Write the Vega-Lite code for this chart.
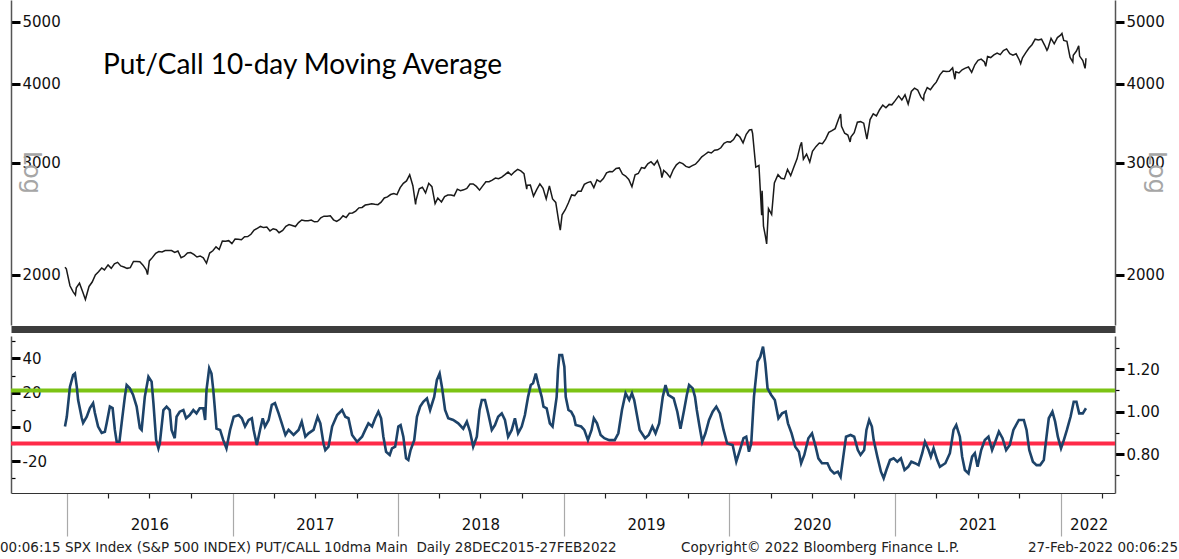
{
  "$schema": "https://vega.github.io/schema/vega-lite/v6.json",
  "padding": {"left": 0, "top": 0, "right": 15, "bottom": 0},
  "background": "white",
  "config": {"view": {"stroke": null}, "font": "DejaVu Sans", "axis": {"grid": false, "labelFont": "DejaVu Sans"}},
  "title": {
    "text": "00:06:15 SPX Index (S&P 500 INDEX) PUT/CALL 10dma Main\u00a0\u00a0Daily 28DEC2015-27FEB2022\u00a0\u00a0\u00a0\u00a0\u00a0\u00a0\u00a0\u00a0\u00a0\u00a0\u00a0\u00a0\u00a0\u00a0\u00a0Copyright\u00a9 2022 Bloomberg Finance L.P.\u00a0\u00a0\u00a0\u00a0\u00a0\u00a0\u00a0\u00a0\u00a0\u00a0\u00a0\u00a0\u00a0\u00a0\u00a0\u00a027-Feb-2022 00:06:25",
    "orient": "bottom", "anchor": "start", "frame": "group", "dx": -11, "offset": -14,
    "font": "DejaVu Sans", "fontSize": 13.5, "fontWeight": "normal", "color": "#222"
  },
  "datasets": {
    "levels": [{"level": 1.10, "band": "upper"}, {"level": 0.85, "band": "lower"}],
    "spx": [
      {"date":"2015-12-28","close":2056},{"date":"2015-12-31","close":2044},{"date":"2016-01-08","close":1922},{"date":"2016-01-15","close":1880},{"date":"2016-01-20","close":1859},{"date":"2016-01-22","close":1907},{"date":"2016-01-29","close":1940},{"date":"2016-02-05","close":1880},{"date":"2016-02-11","close":1829},{"date":"2016-02-19","close":1917},{"date":"2016-02-26","close":1948},{"date":"2016-03-04","close":1999},{"date":"2016-03-11","close":2022},{"date":"2016-03-18","close":2050},{"date":"2016-03-24","close":2035},{"date":"2016-04-01","close":2073},{"date":"2016-04-08","close":2047},{"date":"2016-04-15","close":2081},{"date":"2016-04-22","close":2092},{"date":"2016-04-29","close":2065},{"date":"2016-05-06","close":2057},{"date":"2016-05-13","close":2047},{"date":"2016-05-20","close":2052},{"date":"2016-05-27","close":2099},{"date":"2016-06-03","close":2099},{"date":"2016-06-10","close":2096},{"date":"2016-06-17","close":2071},{"date":"2016-06-24","close":2037},{"date":"2016-06-27","close":2001},{"date":"2016-07-01","close":2103},{"date":"2016-07-08","close":2130},{"date":"2016-07-15","close":2162},{"date":"2016-07-22","close":2175},{"date":"2016-07-29","close":2173},{"date":"2016-08-05","close":2183},{"date":"2016-08-12","close":2184},{"date":"2016-08-19","close":2184},{"date":"2016-08-26","close":2169},{"date":"2016-09-02","close":2180},{"date":"2016-09-09","close":2128},{"date":"2016-09-16","close":2139},{"date":"2016-09-23","close":2165},{"date":"2016-09-30","close":2168},{"date":"2016-10-07","close":2153},{"date":"2016-10-14","close":2133},{"date":"2016-10-21","close":2141},{"date":"2016-10-28","close":2126},{"date":"2016-11-04","close":2085},{"date":"2016-11-11","close":2164},{"date":"2016-11-18","close":2182},{"date":"2016-11-25","close":2213},{"date":"2016-12-02","close":2192},{"date":"2016-12-09","close":2260},{"date":"2016-12-16","close":2258},{"date":"2016-12-23","close":2263},{"date":"2016-12-30","close":2239},
      {"date":"2017-01-06","close":2277},{"date":"2017-01-13","close":2274},{"date":"2017-01-20","close":2271},{"date":"2017-01-27","close":2295},{"date":"2017-02-03","close":2297},{"date":"2017-02-10","close":2316},{"date":"2017-02-17","close":2351},{"date":"2017-02-24","close":2367},{"date":"2017-03-03","close":2383},{"date":"2017-03-10","close":2373},{"date":"2017-03-17","close":2378},{"date":"2017-03-24","close":2344},{"date":"2017-03-31","close":2363},{"date":"2017-04-07","close":2355},{"date":"2017-04-13","close":2329},{"date":"2017-04-21","close":2349},{"date":"2017-04-28","close":2384},{"date":"2017-05-05","close":2399},{"date":"2017-05-12","close":2391},{"date":"2017-05-19","close":2382},{"date":"2017-05-26","close":2416},{"date":"2017-06-02","close":2439},{"date":"2017-06-09","close":2432},{"date":"2017-06-16","close":2433},{"date":"2017-06-23","close":2438},{"date":"2017-06-30","close":2423},{"date":"2017-07-07","close":2425},{"date":"2017-07-14","close":2459},{"date":"2017-07-21","close":2473},{"date":"2017-07-28","close":2472},{"date":"2017-08-04","close":2477},{"date":"2017-08-11","close":2441},{"date":"2017-08-18","close":2426},{"date":"2017-08-25","close":2444},{"date":"2017-09-01","close":2477},{"date":"2017-09-08","close":2461},{"date":"2017-09-15","close":2500},{"date":"2017-09-22","close":2502},{"date":"2017-09-29","close":2519},{"date":"2017-10-06","close":2549},{"date":"2017-10-13","close":2553},{"date":"2017-10-20","close":2575},{"date":"2017-10-27","close":2581},{"date":"2017-11-03","close":2587},{"date":"2017-11-10","close":2582},{"date":"2017-11-17","close":2579},{"date":"2017-11-24","close":2602},{"date":"2017-12-01","close":2642},{"date":"2017-12-08","close":2652},{"date":"2017-12-15","close":2675},{"date":"2017-12-22","close":2684},{"date":"2017-12-29","close":2674},
      {"date":"2018-01-05","close":2743},{"date":"2018-01-12","close":2786},{"date":"2018-01-19","close":2810},{"date":"2018-01-26","close":2873},{"date":"2018-02-02","close":2762},{"date":"2018-02-08","close":2581},{"date":"2018-02-09","close":2620},{"date":"2018-02-16","close":2732},{"date":"2018-02-23","close":2747},{"date":"2018-03-02","close":2691},{"date":"2018-03-09","close":2786},{"date":"2018-03-16","close":2752},{"date":"2018-03-23","close":2588},{"date":"2018-03-29","close":2641},{"date":"2018-04-06","close":2604},{"date":"2018-04-13","close":2656},{"date":"2018-04-20","close":2670},{"date":"2018-04-27","close":2670},{"date":"2018-05-04","close":2663},{"date":"2018-05-11","close":2728},{"date":"2018-05-18","close":2713},{"date":"2018-05-25","close":2721},{"date":"2018-06-01","close":2735},{"date":"2018-06-08","close":2779},{"date":"2018-06-15","close":2780},{"date":"2018-06-22","close":2755},{"date":"2018-06-29","close":2718},{"date":"2018-07-06","close":2760},{"date":"2018-07-13","close":2801},{"date":"2018-07-20","close":2802},{"date":"2018-07-27","close":2819},{"date":"2018-08-03","close":2840},{"date":"2018-08-10","close":2833},{"date":"2018-08-17","close":2850},{"date":"2018-08-24","close":2875},{"date":"2018-08-31","close":2902},{"date":"2018-09-07","close":2872},{"date":"2018-09-14","close":2905},{"date":"2018-09-21","close":2930},{"date":"2018-09-28","close":2914},{"date":"2018-10-05","close":2886},{"date":"2018-10-11","close":2728},{"date":"2018-10-12","close":2767},{"date":"2018-10-19","close":2768},{"date":"2018-10-26","close":2659},{"date":"2018-11-02","close":2723},{"date":"2018-11-09","close":2781},{"date":"2018-11-16","close":2736},{"date":"2018-11-23","close":2633},{"date":"2018-11-30","close":2760},{"date":"2018-12-07","close":2633},{"date":"2018-12-14","close":2600},{"date":"2018-12-21","close":2417},{"date":"2018-12-24","close":2351},{"date":"2018-12-28","close":2486},
      {"date":"2019-01-04","close":2532},{"date":"2019-01-11","close":2596},{"date":"2019-01-18","close":2671},{"date":"2019-01-25","close":2665},{"date":"2019-02-01","close":2707},{"date":"2019-02-08","close":2708},{"date":"2019-02-15","close":2776},{"date":"2019-02-22","close":2793},{"date":"2019-03-01","close":2804},{"date":"2019-03-08","close":2743},{"date":"2019-03-15","close":2822},{"date":"2019-03-22","close":2801},{"date":"2019-03-29","close":2834},{"date":"2019-04-05","close":2893},{"date":"2019-04-12","close":2907},{"date":"2019-04-18","close":2905},{"date":"2019-04-26","close":2940},{"date":"2019-05-03","close":2946},{"date":"2019-05-10","close":2881},{"date":"2019-05-17","close":2860},{"date":"2019-05-24","close":2826},{"date":"2019-05-31","close":2752},{"date":"2019-06-07","close":2873},{"date":"2019-06-14","close":2887},{"date":"2019-06-21","close":2950},{"date":"2019-06-28","close":2942},{"date":"2019-07-05","close":2990},{"date":"2019-07-12","close":3014},{"date":"2019-07-19","close":2977},{"date":"2019-07-26","close":3026},{"date":"2019-08-02","close":2932},{"date":"2019-08-05","close":2845},{"date":"2019-08-09","close":2919},{"date":"2019-08-16","close":2889},{"date":"2019-08-23","close":2847},{"date":"2019-08-30","close":2926},{"date":"2019-09-06","close":2979},{"date":"2019-09-13","close":3007},{"date":"2019-09-20","close":2992},{"date":"2019-09-27","close":2962},{"date":"2019-10-04","close":2952},{"date":"2019-10-11","close":2970},{"date":"2019-10-18","close":2986},{"date":"2019-10-25","close":3023},{"date":"2019-11-01","close":3067},{"date":"2019-11-08","close":3093},{"date":"2019-11-15","close":3120},{"date":"2019-11-22","close":3110},{"date":"2019-11-29","close":3141},{"date":"2019-12-06","close":3146},{"date":"2019-12-13","close":3169},{"date":"2019-12-20","close":3221},{"date":"2019-12-27","close":3240},
      {"date":"2020-01-03","close":3235},{"date":"2020-01-10","close":3265},{"date":"2020-01-17","close":3330},{"date":"2020-01-24","close":3295},{"date":"2020-01-31","close":3226},{"date":"2020-02-07","close":3328},{"date":"2020-02-14","close":3380},{"date":"2020-02-19","close":3386},{"date":"2020-02-21","close":3338},{"date":"2020-02-28","close":2954},{"date":"2020-03-06","close":2972},{"date":"2020-03-12","close":2481},{"date":"2020-03-13","close":2711},{"date":"2020-03-16","close":2386},{"date":"2020-03-20","close":2305},{"date":"2020-03-23","close":2237},{"date":"2020-03-27","close":2541},{"date":"2020-04-03","close":2489},{"date":"2020-04-09","close":2790},{"date":"2020-04-17","close":2875},{"date":"2020-04-24","close":2837},{"date":"2020-05-01","close":2831},{"date":"2020-05-08","close":2930},{"date":"2020-05-15","close":2864},{"date":"2020-05-22","close":2955},{"date":"2020-05-29","close":3044},{"date":"2020-06-05","close":3194},{"date":"2020-06-08","close":3232},{"date":"2020-06-12","close":3041},{"date":"2020-06-19","close":3098},{"date":"2020-06-26","close":3009},{"date":"2020-07-02","close":3130},{"date":"2020-07-10","close":3185},{"date":"2020-07-17","close":3225},{"date":"2020-07-24","close":3216},{"date":"2020-07-31","close":3271},{"date":"2020-08-07","close":3351},{"date":"2020-08-14","close":3373},{"date":"2020-08-21","close":3397},{"date":"2020-08-28","close":3508},{"date":"2020-09-02","close":3580},{"date":"2020-09-04","close":3427},{"date":"2020-09-11","close":3341},{"date":"2020-09-18","close":3319},{"date":"2020-09-23","close":3237},{"date":"2020-09-25","close":3298},{"date":"2020-10-02","close":3348},{"date":"2020-10-09","close":3477},{"date":"2020-10-16","close":3484},{"date":"2020-10-23","close":3465},{"date":"2020-10-30","close":3270},{"date":"2020-11-06","close":3510},{"date":"2020-11-13","close":3585},{"date":"2020-11-20","close":3558},{"date":"2020-11-27","close":3638},{"date":"2020-12-04","close":3699},{"date":"2020-12-11","close":3663},{"date":"2020-12-18","close":3709},{"date":"2020-12-24","close":3703},{"date":"2020-12-31","close":3756},
      {"date":"2021-01-08","close":3825},{"date":"2021-01-15","close":3768},{"date":"2021-01-22","close":3841},{"date":"2021-01-29","close":3714},{"date":"2021-02-05","close":3887},{"date":"2021-02-12","close":3934},{"date":"2021-02-19","close":3907},{"date":"2021-02-26","close":3811},{"date":"2021-03-04","close":3768},{"date":"2021-03-05","close":3842},{"date":"2021-03-12","close":3943},{"date":"2021-03-19","close":3913},{"date":"2021-03-26","close":3975},{"date":"2021-04-01","close":4020},{"date":"2021-04-09","close":4129},{"date":"2021-04-16","close":4185},{"date":"2021-04-23","close":4180},{"date":"2021-04-30","close":4181},{"date":"2021-05-07","close":4233},{"date":"2021-05-12","close":4063},{"date":"2021-05-14","close":4174},{"date":"2021-05-21","close":4156},{"date":"2021-05-28","close":4204},{"date":"2021-06-04","close":4230},{"date":"2021-06-11","close":4247},{"date":"2021-06-18","close":4166},{"date":"2021-06-25","close":4281},{"date":"2021-07-02","close":4352},{"date":"2021-07-09","close":4370},{"date":"2021-07-16","close":4327},{"date":"2021-07-19","close":4258},{"date":"2021-07-23","close":4412},{"date":"2021-07-30","close":4395},{"date":"2021-08-06","close":4437},{"date":"2021-08-13","close":4468},{"date":"2021-08-20","close":4442},{"date":"2021-08-27","close":4509},{"date":"2021-09-03","close":4535},{"date":"2021-09-10","close":4459},{"date":"2021-09-17","close":4433},{"date":"2021-09-24","close":4455},{"date":"2021-10-01","close":4357},{"date":"2021-10-04","close":4300},{"date":"2021-10-08","close":4391},{"date":"2021-10-15","close":4471},{"date":"2021-10-22","close":4545},{"date":"2021-10-29","close":4605},{"date":"2021-11-05","close":4698},{"date":"2021-11-12","close":4683},{"date":"2021-11-19","close":4698},{"date":"2021-11-26","close":4595},{"date":"2021-12-01","close":4513},{"date":"2021-12-03","close":4538},{"date":"2021-12-10","close":4712},{"date":"2021-12-17","close":4620},{"date":"2021-12-24","close":4726},{"date":"2021-12-31","close":4766},
      {"date":"2022-01-03","close":4796},{"date":"2022-01-07","close":4677},{"date":"2022-01-14","close":4663},{"date":"2022-01-21","close":4398},{"date":"2022-01-27","close":4326},{"date":"2022-01-28","close":4432},{"date":"2022-02-04","close":4501},{"date":"2022-02-09","close":4587},{"date":"2022-02-11","close":4419},{"date":"2022-02-18","close":4349},{"date":"2022-02-23","close":4226},{"date":"2022-02-24","close":4288},{"date":"2022-02-25","close":4385}
    ],
    "pc": [
      {"date":"2015-12-28","ratio":0.93},{"date":"2016-01-01","ratio":0.976},{"date":"2016-01-08","ratio":1.118},{"date":"2016-01-15","ratio":1.173},{"date":"2016-01-19","ratio":1.18},{"date":"2016-01-23","ratio":1.118},{"date":"2016-01-26","ratio":1.055},{"date":"2016-02-03","ratio":0.97},{"date":"2016-02-06","ratio":0.947},{"date":"2016-02-14","ratio":0.976},{"date":"2016-02-21","ratio":1.017},{"date":"2016-02-28","ratio":1.04},{"date":"2016-03-03","ratio":0.994},{"date":"2016-03-10","ratio":0.93},{"date":"2016-03-18","ratio":0.90},{"date":"2016-03-25","ratio":0.905},{"date":"2016-03-29","ratio":0.947},{"date":"2016-04-05","ratio":1.024},{"date":"2016-04-11","ratio":1.017},{"date":"2016-04-16","ratio":0.914},{"date":"2016-04-20","ratio":0.858},{"date":"2016-04-26","ratio":0.858},{"date":"2016-05-01","ratio":0.947},{"date":"2016-05-08","ratio":1.07},{"date":"2016-05-12","ratio":1.126},{"date":"2016-05-19","ratio":1.11},{"date":"2016-05-26","ratio":1.08},{"date":"2016-06-03","ratio":1.024},{"date":"2016-06-10","ratio":0.923},{"date":"2016-06-14","ratio":0.914},{"date":"2016-06-21","ratio":1.07},{"date":"2016-06-29","ratio":1.165},{"date":"2016-07-06","ratio":1.142},{"date":"2016-07-10","ratio":1.04},{"date":"2016-07-16","ratio":0.866},{"date":"2016-07-21","ratio":0.827},{"date":"2016-07-24","ratio":0.85},{"date":"2016-08-01","ratio":1.008},{"date":"2016-08-08","ratio":1.024},{"date":"2016-08-15","ratio":1.008},{"date":"2016-08-19","ratio":0.914},{"date":"2016-08-26","ratio":0.875},{"date":"2016-08-30","ratio":0.976},{"date":"2016-09-06","ratio":1.0},{"date":"2016-09-14","ratio":1.008},{"date":"2016-09-20","ratio":0.969},{"date":"2016-09-28","ratio":0.984},{"date":"2016-10-06","ratio":1.008},{"date":"2016-10-13","ratio":0.992},{"date":"2016-10-20","ratio":1.016},{"date":"2016-10-28","ratio":1.016},{"date":"2016-11-01","ratio":0.961},{"date":"2016-11-04","ratio":1.102},{"date":"2016-11-10","ratio":1.205},{"date":"2016-11-15","ratio":1.18},{"date":"2016-11-19","ratio":1.102},{"date":"2016-11-23","ratio":1.0},{"date":"2016-11-26","ratio":0.92},{"date":"2016-12-04","ratio":0.914},{"date":"2016-12-11","ratio":0.866},{"date":"2016-12-18","ratio":0.827},{"date":"2016-12-26","ratio":0.914},
      {"date":"2017-01-03","ratio":0.976},{"date":"2017-01-14","ratio":0.984},{"date":"2017-01-21","ratio":0.969},{"date":"2017-01-28","ratio":0.93},{"date":"2017-02-05","ratio":0.961},{"date":"2017-02-12","ratio":0.969},{"date":"2017-02-16","ratio":0.914},{"date":"2017-02-23","ratio":0.843},{"date":"2017-03-02","ratio":0.914},{"date":"2017-03-08","ratio":0.969},{"date":"2017-03-13","ratio":0.93},{"date":"2017-03-21","ratio":0.961},{"date":"2017-03-28","ratio":1.032},{"date":"2017-04-04","ratio":1.04},{"date":"2017-04-12","ratio":0.992},{"date":"2017-04-19","ratio":0.945},{"date":"2017-04-27","ratio":0.89},{"date":"2017-05-04","ratio":0.914},{"date":"2017-05-15","ratio":0.89},{"date":"2017-05-26","ratio":0.914},{"date":"2017-06-02","ratio":0.953},{"date":"2017-06-10","ratio":0.882},{"date":"2017-06-17","ratio":0.898},{"date":"2017-06-28","ratio":0.914},{"date":"2017-07-07","ratio":0.976},{"date":"2017-07-13","ratio":0.945},{"date":"2017-07-20","ratio":0.85},{"date":"2017-07-24","ratio":0.819},{"date":"2017-07-31","ratio":0.835},{"date":"2017-08-08","ratio":0.93},{"date":"2017-08-19","ratio":0.984},{"date":"2017-08-30","ratio":1.008},{"date":"2017-09-06","ratio":0.976},{"date":"2017-09-13","ratio":0.969},{"date":"2017-09-21","ratio":0.89},{"date":"2017-10-02","ratio":0.858},{"date":"2017-10-13","ratio":0.882},{"date":"2017-10-20","ratio":0.914},{"date":"2017-10-27","ratio":0.945},{"date":"2017-11-04","ratio":0.93},{"date":"2017-11-11","ratio":0.969},{"date":"2017-11-18","ratio":1.0},{"date":"2017-11-24","ratio":0.969},{"date":"2017-11-29","ratio":0.882},{"date":"2017-12-05","ratio":0.811},{"date":"2017-12-13","ratio":0.796},{"date":"2017-12-18","ratio":0.827},{"date":"2017-12-25","ratio":0.835},
      {"date":"2018-01-01","ratio":0.93},{"date":"2018-01-06","ratio":0.937},{"date":"2018-01-12","ratio":0.882},{"date":"2018-01-18","ratio":0.78},{"date":"2018-01-23","ratio":0.772},{"date":"2018-01-28","ratio":0.819},{"date":"2018-02-05","ratio":0.866},{"date":"2018-02-11","ratio":0.976},{"date":"2018-02-18","ratio":1.024},{"date":"2018-02-25","ratio":1.047},{"date":"2018-03-05","ratio":1.063},{"date":"2018-03-12","ratio":1.008},{"date":"2018-03-21","ratio":1.07},{"date":"2018-03-27","ratio":1.15},{"date":"2018-04-02","ratio":1.18},{"date":"2018-04-07","ratio":1.118},{"date":"2018-04-14","ratio":1.008},{"date":"2018-04-21","ratio":0.969},{"date":"2018-05-02","ratio":0.961},{"date":"2018-05-13","ratio":0.945},{"date":"2018-05-24","ratio":0.92},{"date":"2018-06-01","ratio":0.953},{"date":"2018-06-08","ratio":0.906},{"date":"2018-06-15","ratio":0.835},{"date":"2018-06-23","ratio":0.882},{"date":"2018-06-29","ratio":1.008},{"date":"2018-07-04","ratio":1.055},{"date":"2018-07-11","ratio":1.055},{"date":"2018-07-18","ratio":0.992},{"date":"2018-07-26","ratio":0.914},{"date":"2018-08-02","ratio":0.937},{"date":"2018-08-09","ratio":0.976},{"date":"2018-08-17","ratio":0.992},{"date":"2018-08-24","ratio":0.961},{"date":"2018-08-31","ratio":0.882},{"date":"2018-09-08","ratio":0.914},{"date":"2018-09-15","ratio":0.969},{"date":"2018-09-22","ratio":0.898},{"date":"2018-09-30","ratio":0.93},{"date":"2018-10-07","ratio":0.984},{"date":"2018-10-14","ratio":1.07},{"date":"2018-10-20","ratio":1.126},{"date":"2018-10-25","ratio":1.134},{"date":"2018-10-31","ratio":1.18},{"date":"2018-11-05","ratio":1.134},{"date":"2018-11-13","ratio":1.07},{"date":"2018-11-17","ratio":1.024},{"date":"2018-11-24","ratio":1.016},{"date":"2018-12-01","ratio":0.945},{"date":"2018-12-07","ratio":0.93},{"date":"2018-12-16","ratio":1.07},{"date":"2018-12-19","ratio":1.197},{"date":"2018-12-22","ratio":1.267},{"date":"2018-12-28","ratio":1.267},
      {"date":"2019-01-02","ratio":1.212},{"date":"2019-01-05","ratio":1.07},{"date":"2019-01-11","ratio":1.008},{"date":"2019-01-17","ratio":1.0},{"date":"2019-01-23","ratio":0.976},{"date":"2019-01-27","ratio":0.937},{"date":"2019-02-08","ratio":0.93},{"date":"2019-02-15","ratio":0.914},{"date":"2019-02-23","ratio":0.866},{"date":"2019-03-03","ratio":0.914},{"date":"2019-03-08","ratio":0.969},{"date":"2019-03-15","ratio":0.945},{"date":"2019-03-23","ratio":0.89},{"date":"2019-03-31","ratio":0.875},{"date":"2019-04-11","ratio":0.866},{"date":"2019-04-23","ratio":0.866},{"date":"2019-05-01","ratio":0.898},{"date":"2019-05-09","ratio":1.008},{"date":"2019-05-17","ratio":1.087},{"date":"2019-05-25","ratio":1.055},{"date":"2019-05-31","ratio":1.087},{"date":"2019-06-05","ratio":1.055},{"date":"2019-06-09","ratio":1.008},{"date":"2019-06-17","ratio":0.914},{"date":"2019-06-29","ratio":0.875},{"date":"2019-07-07","ratio":0.89},{"date":"2019-07-15","ratio":0.93},{"date":"2019-07-22","ratio":0.898},{"date":"2019-07-30","ratio":0.945},{"date":"2019-08-07","ratio":1.07},{"date":"2019-08-13","ratio":1.126},{"date":"2019-08-19","ratio":1.079},{"date":"2019-08-31","ratio":1.063},{"date":"2019-09-08","ratio":1.0},{"date":"2019-09-15","ratio":0.92},{"date":"2019-09-23","ratio":1.008},{"date":"2019-09-29","ratio":1.079},{"date":"2019-10-04","ratio":1.126},{"date":"2019-10-12","ratio":1.11},{"date":"2019-10-17","ratio":1.07},{"date":"2019-10-21","ratio":1.008},{"date":"2019-10-27","ratio":0.93},{"date":"2019-11-02","ratio":0.858},{"date":"2019-11-09","ratio":0.898},{"date":"2019-11-17","ratio":0.961},{"date":"2019-11-25","ratio":1.0},{"date":"2019-12-03","ratio":1.024},{"date":"2019-12-11","ratio":0.992},{"date":"2019-12-19","ratio":0.914},{"date":"2019-12-27","ratio":0.85},
      {"date":"2020-01-08","ratio":0.843},{"date":"2020-01-16","ratio":0.764},{"date":"2020-01-24","ratio":0.819},{"date":"2020-02-01","ratio":0.875},{"date":"2020-02-07","ratio":0.882},{"date":"2020-02-13","ratio":0.811},{"date":"2020-02-18","ratio":0.85},{"date":"2020-02-24","ratio":1.07},{"date":"2020-03-03","ratio":1.236},{"date":"2020-03-09","ratio":1.259},{"date":"2020-03-15","ratio":1.307},{"date":"2020-03-20","ratio":1.228},{"date":"2020-03-25","ratio":1.11},{"date":"2020-04-02","ratio":1.079},{"date":"2020-04-10","ratio":1.055},{"date":"2020-04-18","ratio":0.969},{"date":"2020-04-26","ratio":0.992},{"date":"2020-05-04","ratio":1.0},{"date":"2020-05-09","ratio":0.945},{"date":"2020-05-17","ratio":0.898},{"date":"2020-05-25","ratio":0.835},{"date":"2020-06-02","ratio":0.811},{"date":"2020-06-07","ratio":0.757},{"date":"2020-06-14","ratio":0.796},{"date":"2020-06-23","ratio":0.875},{"date":"2020-07-01","ratio":0.898},{"date":"2020-07-09","ratio":0.835},{"date":"2020-07-15","ratio":0.78},{"date":"2020-07-23","ratio":0.757},{"date":"2020-08-04","ratio":0.757},{"date":"2020-08-11","ratio":0.725},{"date":"2020-08-19","ratio":0.709},{"date":"2020-08-27","ratio":0.717},{"date":"2020-09-02","ratio":0.693},{"date":"2020-09-08","ratio":0.788},{"date":"2020-09-14","ratio":0.882},{"date":"2020-09-24","ratio":0.89},{"date":"2020-10-02","ratio":0.882},{"date":"2020-10-10","ratio":0.819},{"date":"2020-10-16","ratio":0.796},{"date":"2020-10-24","ratio":0.819},{"date":"2020-10-29","ratio":0.914},{"date":"2020-11-04","ratio":0.961},{"date":"2020-11-10","ratio":0.93},{"date":"2020-11-14","ratio":0.866},{"date":"2020-11-22","ratio":0.788},{"date":"2020-11-30","ratio":0.717},{"date":"2020-12-06","ratio":0.686},{"date":"2020-12-12","ratio":0.725},{"date":"2020-12-20","ratio":0.772},{"date":"2020-12-28","ratio":0.78},
      {"date":"2021-01-05","ratio":0.764},{"date":"2021-01-13","ratio":0.78},{"date":"2021-01-21","ratio":0.725},{"date":"2021-01-29","ratio":0.74},{"date":"2021-02-05","ratio":0.764},{"date":"2021-02-13","ratio":0.757},{"date":"2021-02-21","ratio":0.748},{"date":"2021-03-01","ratio":0.804},{"date":"2021-03-07","ratio":0.858},{"date":"2021-03-15","ratio":0.819},{"date":"2021-03-20","ratio":0.788},{"date":"2021-03-26","ratio":0.827},{"date":"2021-04-03","ratio":0.772},{"date":"2021-04-09","ratio":0.74},{"date":"2021-04-21","ratio":0.757},{"date":"2021-05-01","ratio":0.804},{"date":"2021-05-09","ratio":0.914},{"date":"2021-05-15","ratio":0.937},{"date":"2021-05-23","ratio":0.882},{"date":"2021-05-28","ratio":0.788},{"date":"2021-06-03","ratio":0.725},{"date":"2021-06-11","ratio":0.709},{"date":"2021-06-19","ratio":0.788},{"date":"2021-06-25","ratio":0.804},{"date":"2021-07-01","ratio":0.74},{"date":"2021-07-09","ratio":0.819},{"date":"2021-07-17","ratio":0.866},{"date":"2021-07-25","ratio":0.882},{"date":"2021-08-02","ratio":0.819},{"date":"2021-08-09","ratio":0.858},{"date":"2021-08-17","ratio":0.906},{"date":"2021-08-25","ratio":0.875},{"date":"2021-09-02","ratio":0.819},{"date":"2021-09-10","ratio":0.843},{"date":"2021-09-18","ratio":0.914},{"date":"2021-09-30","ratio":0.961},{"date":"2021-10-11","ratio":0.961},{"date":"2021-10-17","ratio":0.914},{"date":"2021-10-23","ratio":0.819},{"date":"2021-10-31","ratio":0.764},{"date":"2021-11-08","ratio":0.748},{"date":"2021-11-16","ratio":0.748},{"date":"2021-11-24","ratio":0.772},{"date":"2021-11-30","ratio":0.882},{"date":"2021-12-05","ratio":0.969},{"date":"2021-12-13","ratio":1.0},{"date":"2021-12-19","ratio":0.953},{"date":"2021-12-25","ratio":0.882},
      {"date":"2022-01-01","ratio":0.827},{"date":"2022-01-06","ratio":0.858},{"date":"2022-01-14","ratio":0.914},{"date":"2022-01-22","ratio":0.976},{"date":"2022-01-29","ratio":1.047},{"date":"2022-02-04","ratio":1.047},{"date":"2022-02-10","ratio":0.992},{"date":"2022-02-18","ratio":0.992},{"date":"2022-02-25","ratio":1.016}
    ]
  },
  "spacing": 7,
  "vconcat": [
    {
      "width": 1104,
      "height": 325,
      "title": {"text": "Put/Call 10-day Moving Average", "anchor": "start", "frame": "group", "offset": -80, "dx": 92, "font": "Lato", "fontSize": 28, "fontWeight": "normal", "color": "#000"},
      "layer": [
        {
          "data": {"name": "spx"},
          "mark": {"type": "line", "color": "#1a1a1a", "strokeWidth": 1.5},
          "encoding": {
            "x": {"field": "date", "type": "temporal",
              "scale": {"type": "utc", "domain": [{"year": 2015, "month": 8, "date": 31, "utc": true}, {"year": 2022, "month": 4, "date": 30, "utc": true}]},
              "axis": {"title": null, "labels": false, "ticks": false, "domainWidth": 7, "domainColor": "#3d3d3d", "offset": 4}},
            "y": {"field": "close", "type": "quantitative",
              "scale": {"type": "log", "domain": [1667, 5415], "nice": false},
              "axis": {"orient": "left", "values": [2000, 3000, 4000, 5000], "format": "d", "tickSize": -9, "tickWidth": 3, "tickColor": "#000",
                "labelAlign": "left", "labelBaseline": "middle", "labelPadding": -2, "labelFontSize": 15, "labelColor": "#111",
                "domainColor": "#555", "domainWidth": 1.5,
                "title": "Log", "titleAngle": 90, "titleX": 19, "titleY": 172, "titleColor": "#a6a6a6", "titleFontSize": 24, "titleFontWeight": "normal", "titleFont": "DejaVu Sans", "titleAlign": "center", "titleBaseline": "middle"}}
          }
        },
        {
          "data": {"values": [{"k": 1}]},
          "mark": {"type": "rule", "opacity": 0},
          "encoding": {
            "y": {"datum": 3000, "type": "quantitative",
              "scale": {"type": "log", "domain": [1667, 5415], "nice": false},
              "axis": {"orient": "right", "values": [2000, 3000, 4000, 5000], "format": "d", "tickSize": 9, "tickWidth": 3, "tickColor": "#000",
                "labelAlign": "left", "labelBaseline": "middle", "labelPadding": 2, "labelFontSize": 15, "labelColor": "#111",
                "domainColor": "#555", "domainWidth": 1.5,
                "title": "Log", "titleAngle": 90, "titleX": 40, "titleY": 172, "titleColor": "#a6a6a6", "titleFontSize": 24, "titleFontWeight": "normal", "titleFont": "DejaVu Sans", "titleAlign": "center", "titleBaseline": "middle"}}
          }
        }
      ],
      "resolve": {"scale": {"y": "independent"}, "axis": {"y": "independent"}}
    },
    {
      "width": 1104,
      "height": 157,
      "layer": [
        {
          "data": {"values": [{"k": 1}]},
          "mark": {"type": "rule", "opacity": 0},
          "encoding": {
            "y": {"datum": 0, "type": "quantitative",
              "scale": {"domain": [-38.5, 53.06], "nice": false, "zero": false},
              "axis": {"orient": "left", "values": [-30, -20, -10, 0, 10, 20, 30, 40, 50], "title": null,
                "labelExpr": "datum.value % 20 == 0 ? '' + datum.value : ''",
                "tickSize": {"condition": {"test": "datum.value % 20 == 0", "value": -9}, "value": -4},
                "tickWidth": {"condition": {"test": "datum.value % 20 == 0", "value": 3}, "value": 1.2},
                "tickColor": "#000", "labelAlign": "left", "labelBaseline": "middle", "labelPadding": -2, "labelFontSize": 15, "labelColor": "#111",
                "domainColor": "#555", "domainWidth": 1.5}}
          }
        },
        {
          "data": {"name": "levels"},
          "mark": {"type": "rule", "strokeWidth": 4},
          "encoding": {
            "y": {"field": "level", "type": "quantitative", "scale": {"domain": [0.6165, 1.357], "nice": false, "zero": false}, "axis": null},
            "color": {"field": "band", "type": "nominal", "scale": {"domain": ["upper", "lower"], "range": ["#7cc314", "#ff2a48"]}, "legend": null}
          }
        },
        {
          "data": {"name": "pc"},
          "mark": {"type": "line", "color": "#1d4369", "strokeWidth": 2.6},
          "encoding": {
            "x": {"field": "date", "type": "temporal",
              "scale": {"type": "utc", "domain": [{"year": 2015, "month": 8, "date": 31, "utc": true}, {"year": 2022, "month": 4, "date": 30, "utc": true}]},
              "axis": {"title": null,
                "values": [
                  {"year": 2016, "month": 1, "date": 1, "utc": true}, {"year": 2016, "month": 4, "date": 1, "utc": true}, {"year": 2016, "month": 7, "date": 1, "utc": true}, {"year": 2016, "month": 10, "date": 1, "utc": true},
                  {"year": 2017, "month": 1, "date": 1, "utc": true}, {"year": 2017, "month": 4, "date": 1, "utc": true}, {"year": 2017, "month": 7, "date": 1, "utc": true}, {"year": 2017, "month": 10, "date": 1, "utc": true},
                  {"year": 2018, "month": 1, "date": 1, "utc": true}, {"year": 2018, "month": 4, "date": 1, "utc": true}, {"year": 2018, "month": 7, "date": 1, "utc": true}, {"year": 2018, "month": 10, "date": 1, "utc": true},
                  {"year": 2019, "month": 1, "date": 1, "utc": true}, {"year": 2019, "month": 4, "date": 1, "utc": true}, {"year": 2019, "month": 7, "date": 1, "utc": true}, {"year": 2019, "month": 10, "date": 1, "utc": true},
                  {"year": 2020, "month": 1, "date": 1, "utc": true}, {"year": 2020, "month": 4, "date": 1, "utc": true}, {"year": 2020, "month": 7, "date": 1, "utc": true}, {"year": 2020, "month": 10, "date": 1, "utc": true},
                  {"year": 2021, "month": 1, "date": 1, "utc": true}, {"year": 2021, "month": 4, "date": 1, "utc": true}, {"year": 2021, "month": 7, "date": 1, "utc": true}, {"year": 2021, "month": 10, "date": 1, "utc": true},
                  {"year": 2022, "month": 1, "date": 1, "utc": true}, {"year": 2022, "month": 3, "date": 3, "utc": true}, {"year": 2022, "month": 4, "date": 1, "utc": true}
                ],
                "labelExpr": "(utcmonth(datum.value) == 6 || utcdate(datum.value) == 3) ? '' + utcyear(datum.value) : ''",
                "labelFontSize": {"condition": {"test": "utcmonth(datum.value) == 6 || utcdate(datum.value) == 3", "value": 15}, "value": 0},
                "tickSize": {"condition": {"test": "utcmonth(datum.value) == 0", "value": 43}, "value": 5},
                "tickColor": {"condition": {"test": "utcmonth(datum.value) == 0", "value": "#a9a9a9"}, "value": "#222"},
                "tickOpacity": {"condition": {"test": "utcdate(datum.value) == 3", "value": 0}, "value": 1},
                "tickWidth": 1.2,
                "labelPadding": 19, "labelColor": "#111", "labelFlush": false, "labelOverlap": false,
                "domainColor": "#333"}},
            "y": {"field": "ratio", "type": "quantitative",
              "scale": {"domain": [0.6165, 1.357], "nice": false, "zero": false},
              "axis": {"orient": "right", "values": [0.7, 0.8, 0.9, 1.0, 1.1, 1.2, 1.3], "title": null,
                "labelExpr": "round(datum.value * 10) % 2 == 0 ? format(datum.value, '.2f') : ''",
                "tickSize": {"condition": {"test": "round(datum.value * 10) % 2 == 0", "value": 9}, "value": 4},
                "tickWidth": {"condition": {"test": "round(datum.value * 10) % 2 == 0", "value": 3}, "value": 1.2},
                "tickColor": "#000", "labelAlign": "left", "labelBaseline": "middle", "labelPadding": 2, "labelFontSize": 15, "labelColor": "#111",
                "domainColor": "#555", "domainWidth": 1.5}}
          }
        }
      ],
      "resolve": {"scale": {"y": "independent"}, "axis": {"y": "independent"}}
    }
  ]
}
